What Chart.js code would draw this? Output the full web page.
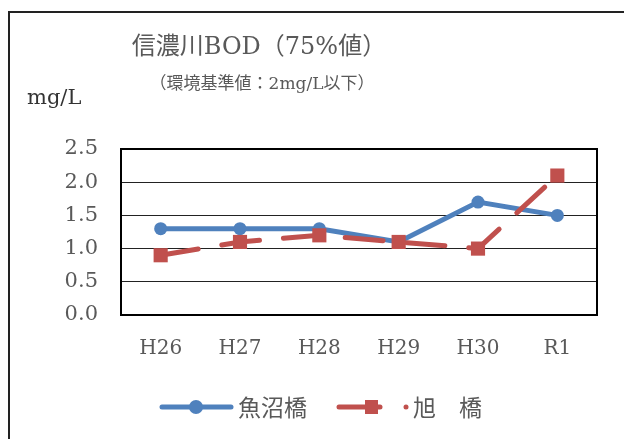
<!DOCTYPE html>
<html>
<head>
<meta charset="utf-8">
<script src="https://cdn.jsdelivr.net/npm/chart.js@4/dist/chart.umd.min.js"></script>
<style>
  html, body { margin: 0; padding: 0; background: #fff; overflow: hidden; }
  #wrap { width: 624px; height: 439px; position: relative; }
</style>
</head>
<body>
<div id="wrap"><canvas id="bodChart" width="624" height="439"></canvas></div>
<script>
var years = ["H26", "H27", "H28", "H29", "H30", "R1"];
var uonumaBashi = [1.3, 1.3, 1.3, 1.1, 1.7, 1.5];
var asahiBashi = [0.9, 1.1, 1.2, 1.1, 1.0, 2.1];
var yTicks = [0, 0.5, 1.0, 1.5, 2.0, 2.5];

var blue = "#4F81BD";
var red = "#C0504D";
var textGrey = "#595959";
var serif = "'DejaVu Serif', 'Noto Sans CJK JP', serif";
var gothic = "'Noto Sans CJK JP', sans-serif";

// title, unit, frame and legend are drawn by hand
var decorPlugin = {
	id: "decor",
	afterDraw: function(chart) {
		var ctx = chart.ctx;
		var a = chart.chartArea;
		ctx.save();

		// outer frame
		ctx.strokeStyle = "#222";
		ctx.lineWidth = 2;
		ctx.beginPath();
		ctx.moveTo(9, 439);
		ctx.lineTo(9, 12);
		ctx.lineTo(624, 12);
		ctx.stroke();

		// plot frame
		ctx.strokeStyle = "#000";
		ctx.lineWidth = 2;
		ctx.strokeRect(a.left, a.top, a.right - a.left, a.bottom - a.top);

		ctx.fillStyle = textGrey;
		ctx.textAlign = "center";
		ctx.textBaseline = "middle";
		ctx.font = "24px " + serif;
		ctx.fillText("信濃川BOD（75%値）", 259, 48);
		ctx.font = "17px " + serif;
		ctx.fillText("（環境基準値：2mg/L以下）", 262, 85);
		ctx.textAlign = "left";
		ctx.fillStyle = "#333";
		ctx.font = "21px " + serif;
		ctx.fillText("mg/L", 27, 99);

		// legend
		var ly = 407;
		ctx.lineCap = "round";
		ctx.lineWidth = 5;
		ctx.strokeStyle = blue;
		ctx.beginPath();
		ctx.moveTo(162, ly);
		ctx.lineTo(231, ly);
		ctx.stroke();
		ctx.fillStyle = blue;
		ctx.beginPath();
		ctx.arc(196, ly, 7, 0, Math.PI * 2);
		ctx.fill();

		ctx.strokeStyle = red;
		ctx.beginPath();
		ctx.moveTo(339, ly);
		ctx.lineTo(380, ly);
		ctx.stroke();
		ctx.fillStyle = red;
		ctx.fillRect(365, ly - 7, 13, 14);
		ctx.beginPath();
		ctx.arc(406, ly, 2.5, 0, Math.PI * 2);
		ctx.fill();

		ctx.fillStyle = textGrey;
		ctx.font = "23px " + gothic;
		ctx.textBaseline = "middle";
		ctx.fillText("魚沼橋", 238, ly);
		ctx.fillText("旭　橋", 413, ly);
		ctx.restore();
	}
};

var ctx = document.getElementById("bodChart").getContext("2d");
var chart = new Chart(ctx, {
	type: "line",
	data: {
		labels: years,
		datasets: [
			{
				label: "魚沼橋",
				data: uonumaBashi,
				borderColor: blue,
				backgroundColor: blue,
				borderWidth: 5,
				pointStyle: "circle",
				pointRadius: 6.5,
				pointBorderWidth: 0,
				tension: 0,
				order: 2
			},
			{
				label: "旭　橋",
				data: asahiBashi,
				borderColor: red,
				backgroundColor: red,
				borderWidth: 5,
				borderDash: [38, 24],
				borderCapStyle: "round",
				pointStyle: "rect",
				pointRadius: 10,
				pointBorderWidth: 0,
				tension: 0,
				order: 1
			}
		]
	},
	options: {
		responsive: false,
		animation: false,
		layout: { padding: { left: 0, top: 149, right: 27, bottom: 74 } },
		plugins: {
			legend: { display: false },
			title: { display: false },
			tooltip: { enabled: false }
		},
		scales: {
			x: {
				offset: true,
				grid: { display: false, drawTicks: false },
				border: { display: false },
				ticks: {
					color: textGrey,
					font: { family: serif, size: 20 },
					padding: 22,
					maxRotation: 0
				},
				afterFit: function(s) { s.height = 50; }
			},
			y: {
				min: 0,
				max: 2.5,
				grid: { color: "#222", lineWidth: 1, drawTicks: false },
				border: { display: false },
				afterBuildTicks: function(s) {
					s.ticks = yTicks.map(function(v) { return { value: v }; });
				},
				ticks: {
					color: textGrey,
					font: { family: serif, size: 21 },
					padding: 23,
					callback: function(v) { return Number(v).toFixed(1); }
				},
				afterFit: function(s) { s.width = 121; }
			}
		}
	},
	plugins: [decorPlugin]
});
</script>
</body>
</html>
